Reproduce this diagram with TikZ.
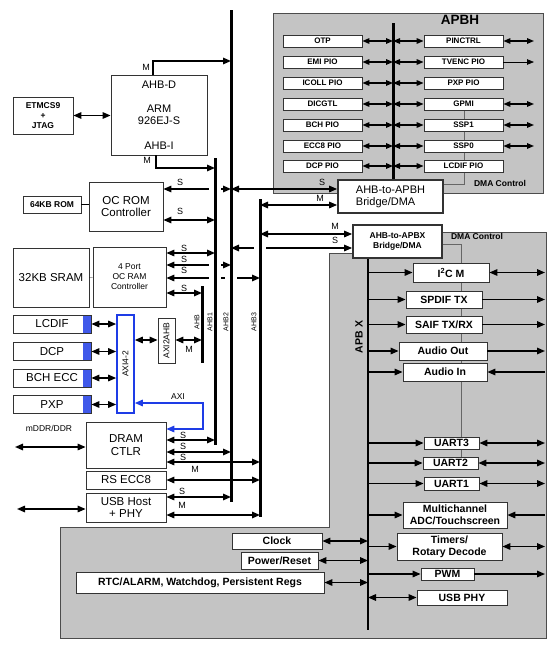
\documentclass[tikz,border=0pt]{standalone}
\usepackage{fontspec}
\usepackage{graphicx}
\setmainfont{Liberation Sans}
\usetikzlibrary{arrows.meta, positioning}

\definecolor{axiblue}{RGB}{30,60,230}
\definecolor{regiongray}{RGB}{196,196,196}

\newcommand{\sizetiny}{\fontsize{7}{8}\selectfont}
\newcommand{\sizesmall}{\fontsize{8}{9}\selectfont}
\newcommand{\sizenote}{\fontsize{8.5}{10}\selectfont}
\newcommand{\sizetag}{\fontsize{9}{10}\selectfont}
\newcommand{\sizemid}{\fontsize{10.5}{12}\selectfont}
\newcommand{\sizebig}{\fontsize{11.5}{12.5}\selectfont}
\newcommand{\sizetitle}{\fontsize{13.5}{15}\selectfont}

\tikzstyle{block} = [rectangle, draw=black!80, fill=white, line width=0.8pt, inner sep=0pt, align=center]
\tikzstyle{pio} = [block, minimum width=79pt, minimum height=12pt, font=\sizesmall\bfseries]
\tikzstyle{periph} = [block, font=\sizemid\bfseries]
\tikzstyle{unit} = [block, font=\sizebig]
\tikzstyle{bridge} = [block, line width=1.8pt]
\tikzstyle{master} = [block, minimum width=78pt, minimum height=18pt, font=\sizebig, path picture={\fill[axiblue!85] ([xshift=-8pt]path picture bounding box.north east) rectangle (path picture bounding box.south east);}]
\tikzstyle{bus} = [line width=3pt]
\tikzstyle{arrow} = [line width=1.5pt, ->, >={Triangle[length=8pt,width=6.5pt]}]
\tikzstyle{dblarrow} = [line width=1.5pt, <->, >={Triangle[length=8pt,width=6.5pt]}]
\tikzstyle{piolink} = [line width=1.4pt, <->, >={Triangle[length=7pt,width=5.5pt]}]
\tikzstyle{thinarrow} = [line width=0.8pt, ->, >={Triangle[length=7pt,width=5.5pt]}]
\tikzstyle{region} = [draw=black!70, fill=regiongray, line width=0.8pt]
\tikzstyle{dma} = [draw=black!60, line width=0.6pt]
\tikzstyle{tag} = [font=\sizetag, inner sep=0pt]
\tikzstyle{buslabel} = [font=\sizetiny, rotate=90, inner sep=0pt]

\begin{document}
\begin{tikzpicture}[x=1pt, y=-1pt]
\useasboundingbox (0,0) rectangle (554,645);

% Regions
\draw[region] (273,13) rectangle (543,193);
\draw[region] (329,253) -- (360,253) -- (360,232) -- (546,232) -- (546,638) -- (60,638) -- (60,527) -- (329,527) -- cycle;

% DMA control lines
\draw[dma] (464,110) -- (464,184) -- (443,184);
\draw[dma] (442,244) -- (461,244) -- (461,457);

% Bus coordinates
\coordinate (ahb) at (202,286);
\coordinate (ahb1) at (215,158);
\coordinate (ahb2) at (231,10);
\coordinate (ahb3) at (260,199);
\coordinate (apbh) at (393,23);
\coordinate (apbx) at (368,258);
\coordinate (edge) at (545,0);
\coordinate (apbhedge) at (534,0);
\coordinate (ddr) at (15,447);
\coordinate (usbext) at (17,509);

% Nodes for CPU and memories
\node (etm) [block, minimum width=60pt, minimum height=37pt, font=\sizenote\bfseries] at (43,115.5) {ETMCS9\\+\\JTAG};
\node (arm) [block, minimum width=96pt, minimum height=80pt, font=\fontsize{11}{12}\selectfont] at (159,115) {AHB-D\\[12.5pt]ARM\\926EJ-S\\[12.5pt]AHB-I};
\node (romc) [unit, minimum width=74pt, minimum height=49pt] at (126,206.5) {OC ROM\\Controller};
\node (rom64) [block, minimum width=58pt, minimum height=17pt, font=\sizenote\bfseries] at (52,204.5) {64KB ROM};
\node (sram) [unit, minimum width=76pt, minimum height=59pt] at (51,277.5) {32KB SRAM};
\node (ramc) [block, minimum width=73pt, minimum height=60pt, font=\sizenote] at (129.5,277) {4 Port\\OC RAM\\Controller};

% Nodes for AXI masters
\node (lcdif) [master] at (52,324) {LCDIF};
\node (dcp) [master] at (52,351.5) {DCP};
\node (bchecc) [master] at (52,378) {BCH ECC};
\node (pxp) [master] at (52,404.5) {PXP};
\node (axi) [block, draw=axiblue, line width=1.6pt, minimum width=17pt, minimum height=98pt, font=\sizenote] at (125.5,364) {\rotatebox{90}{AXI4-2}};
\node (axi2ahb) [block, minimum width=17pt, minimum height=45pt, font=\sizenote] at (166.5,340.5) {\rotatebox{90}{AXI2AHB}};

% Nodes for DRAM and USB
\node (dram) [unit, minimum width=80pt, minimum height=46pt] at (126,445) {DRAM\\CTLR};
\node (rsecc) [unit, minimum width=80pt, minimum height=18pt] at (126,480) {RS ECC8};
\node (usbh) [unit, minimum width=80pt, minimum height=29pt] at (126,507.5) {USB Host\\+ PHY};

% Nodes for APBH
\node (otp) [pio] at (322.5,41) {OTP};
\node (emi) [pio] at (322.5,62) {EMI PIO};
\node (icoll) [pio] at (322.5,83) {ICOLL PIO};
\node (dicgtl) [pio] at (322.5,104) {DICGTL};
\node (bchpio) [pio] at (322.5,125) {BCH PIO};
\node (eccpio) [pio] at (322.5,146) {ECC8 PIO};
\node (dcppio) [pio] at (322.5,166) {DCP PIO};
\node (pinctrl) [pio] at (463.5,41) {PINCTRL};
\node (tvenc) [pio] at (463.5,62) {TVENC PIO};
\node (pxppio) [pio] at (463.5,83) {PXP PIO};
\node (gpmi) [pio] at (463.5,104) {GPMI};
\node (ssp1) [pio] at (463.5,125) {SSP1};
\node (ssp0) [pio] at (463.5,146) {SSP0};
\node (lcdifpio) [pio] at (463.5,166) {LCDIF PIO};

% Bridges
\node (apbhbr) [bridge, minimum width=105pt, minimum height=33pt, font=\fontsize{11}{12}\selectfont, align=left] at (390.5,196.5) {AHB-to-APBH\\Bridge/DMA};
\node (apbxbr) [bridge, minimum width=89pt, minimum height=33pt, font=\sizenote\bfseries] at (397.5,241.5) {AHB-to-APBX\\Bridge/DMA};

% Nodes for APBX
\node (i2c) [periph, minimum width=76pt, minimum height=19pt] at (451,272.5) {I\textsuperscript{2}C M};
\node (spdif) [periph, minimum width=76pt, minimum height=17pt] at (444,299.5) {SPDIF TX};
\node (saif) [periph, minimum width=76pt, minimum height=17pt] at (444,324.5) {SAIF TX/RX};
\node (audout) [periph, minimum width=88pt, minimum height=18pt] at (443,351) {Audio Out};
\node (audin) [periph, minimum width=84pt, minimum height=18pt] at (445,372) {Audio In};
\node (uart3) [periph, minimum width=55pt, minimum height=12pt] at (451.5,443) {UART3};
\node (uart2) [periph, minimum width=55pt, minimum height=12pt] at (450.5,463) {UART2};
\node (uart1) [periph, minimum width=55pt, minimum height=13pt] at (451.5,483.5) {UART1};
\node (adc) [periph, minimum width=104pt, minimum height=26pt] at (455,515) {Multichannel\\ADC/Touchscreen};
\node (timers) [periph, minimum width=105pt, minimum height=27pt] at (449.5,546.5) {Timers/\\Rotary Decode};
\node (pwm) [periph, minimum width=53pt, minimum height=12pt] at (447.5,574) {PWM};
\node (usbphy) [periph, minimum width=90pt, minimum height=15pt] at (462,597.5) {USB PHY};
\node (clock) [periph, minimum width=90pt, minimum height=16pt] at (277,541) {Clock};
\node (pwrrst) [periph, minimum width=77pt, minimum height=17pt] at (279.5,560.5) {Power/Reset};
\node (rtc) [periph, minimum width=248pt, minimum height=21pt] at (200,582.5) {RTC/ALARM, Watchdog, Persistent Regs};

% Arrows for CPU
\draw [dblarrow] (etm.east) -- (arm.west |- etm.east);
\draw [arrow] (arm.north -| 153,0) -- (153,61) -- (ahb2 |- 0,61);
\draw [arrow] (arm.south -| 156,0) -- (156,168) -- (ahb1 |- 0,168);

% Arrows for ROM and RAM
\draw (rom64.east) -- (romc.west |- rom64.east);
\draw [dblarrow] (romc.east |- 0,189) -- (ahb2 |- 0,189);
\draw [dblarrow] (romc.east |- 0,220) -- (ahb1 |- 0,220);
\draw (sram) -- (ramc);
\draw [dblarrow] (ramc.east |- 0,253) -- (ahb1 |- 0,253);
\draw [dblarrow] (ramc.east |- 0,265) -- (ahb2 |- 0,265);
\draw [dblarrow] (ramc.east |- 0,278) -- (ahb3 |- 0,278);
\draw [dblarrow] (ramc.east |- 0,293) -- (ahb |- 0,293);

% Arrows for bridges
\draw [dblarrow] (ahb2 |- 0,189) -- (apbhbr.west |- 0,189);
\draw [dblarrow] (ahb3 |- 0,205) -- (apbhbr.west |- 0,205);
\draw [dblarrow] (ahb3 |- 0,234) -- (apbxbr.west |- 0,234);
\draw [dblarrow] (ahb2 |- 0,248) -- (apbxbr.west |- 0,248);

% Arrows for AXI
\draw [dblarrow] (lcdif.east) -- (axi.west |- lcdif.east);
\draw [dblarrow] (dcp.east) -- (axi.west |- dcp.east);
\draw [dblarrow] (bchecc.east) -- (axi.west |- bchecc.east);
\draw [dblarrow] (pxp.east) -- (axi.west |- pxp.east);
\draw [dblarrow] (axi.east |- 0,340) -- (axi2ahb.west |- 0,340);
\draw [dblarrow] (axi2ahb.east |- 0,340) -- (ahb |- 0,340);
\draw [dblarrow, axiblue] (axi.east |- 0,403) -- (203,403) -- (203,429) -- (dram.east |- 0,429);

% Arrows for DRAM and USB
\draw [dblarrow] (ddr) -- (dram.west |- ddr);
\draw [dblarrow] (dram.east |- 0,440) -- (ahb1 |- 0,440);
\draw [dblarrow] (dram.east |- 0,452) -- (ahb2 |- 0,452);
\draw [dblarrow] (dram.east |- 0,462) -- (ahb3 |- 0,462);
\draw [dblarrow] (rsecc.east) -- (ahb3 |- rsecc.east);
\draw [dblarrow] (usbh.east |- 0,497) -- (ahb2 |- 0,497);
\draw [dblarrow] (usbh.east |- 0,515) -- (ahb3 |- 0,515);
\draw [dblarrow] (usbext) -- (usbh.west |- usbext);

% Arrows for APBH
\draw [piolink] (otp) -- (apbh |- otp);
\draw [piolink] (emi) -- (apbh |- emi);
\draw [piolink] (icoll) -- (apbh |- icoll);
\draw [piolink] (dicgtl) -- (apbh |- dicgtl);
\draw [piolink] (bchpio) -- (apbh |- bchpio);
\draw [piolink] (eccpio) -- (apbh |- eccpio);
\draw [piolink] (dcppio) -- (apbh |- dcppio);
\draw [piolink] (apbh |- pinctrl) -- (pinctrl);
\draw [piolink] (apbh |- tvenc) -- (tvenc);
\draw [piolink] (apbh |- pxppio) -- (pxppio);
\draw [piolink] (apbh |- gpmi) -- (gpmi);
\draw [piolink] (apbh |- ssp1) -- (ssp1);
\draw [piolink] (apbh |- ssp0) -- (ssp0);
\draw [piolink] (apbh |- lcdifpio) -- (lcdifpio);
\draw [piolink] (pinctrl.east) -- (apbhedge |- pinctrl.east);
\draw [thinarrow] (tvenc.east) -- (apbhedge |- tvenc.east);
\draw [piolink] (gpmi.east) -- (apbhedge |- gpmi.east);
\draw [piolink] (ssp1.east) -- (apbhedge |- ssp1.east);
\draw [piolink] (ssp0.east) -- (apbhedge |- ssp0.east);

% Arrows for APBX
\draw [arrow] (apbx |- i2c) -- (i2c);
\draw [arrow] (apbx |- spdif) -- (spdif);
\draw [arrow] (apbx |- saif) -- (saif);
\draw [arrow] (apbx |- audout) -- (audout);
\draw [arrow] (apbx |- audin) -- (audin);
\draw [arrow] (apbx |- uart3) -- (uart3);
\draw [arrow] (apbx |- uart2) -- (uart2);
\draw [arrow] (apbx |- uart1) -- (uart1);
\draw [arrow] (apbx |- adc) -- (adc);
\draw [arrow] (apbx |- timers) -- (timers);
\draw [arrow] (apbx |- pwm) -- (pwm);
\draw [dblarrow] (apbx |- usbphy) -- (usbphy);
\draw [dblarrow] (clock) -- (apbx |- clock);
\draw [dblarrow] (pwrrst) -- (apbx |- pwrrst);
\draw [dblarrow] (rtc) -- (apbx |- rtc);
\draw [dblarrow] (i2c.east) -- (edge |- i2c.east);
\draw [arrow] (spdif.east) -- (edge |- spdif.east);
\draw [arrow] (saif.east) -- (edge |- saif.east);
\draw [arrow] (audout.east) -- (edge |- audout.east);
\draw [arrow] (edge |- audin.east) -- (audin.east);
\draw [dblarrow] (uart3.east) -- (edge |- uart3.east);
\draw [dblarrow] (uart2.east) -- (edge |- uart2.east);
\draw [dblarrow] (uart1.east) -- (edge |- uart1.east);
\draw [arrow] (edge |- adc.east) -- (adc.east);
\draw [dblarrow] (timers.east) -- (edge |- timers.east);
\draw [arrow] (pwm.east) -- (edge |- pwm.east);

% Bus crossings
\fill[white] (209,187) rectangle (221,191);
\fill[white] (209,263) rectangle (221,267);
\fill[white] (209,276) rectangle (221,280);
\fill[white] (225,276) rectangle (237,280);
\fill[white] (254,246) rectangle (266,250);

% Buses
\draw [bus] (ahb) -- (ahb |- 0,363);
\draw [bus] (ahb1) -- (ahb1 |- 0,445);
\draw [bus] (ahb2) -- (ahb2 |- 0,502);
\draw [bus] (ahb3) -- (ahb3 |- 0,517);
\draw [bus] (apbh) -- (apbhbr.north -| apbh);
\draw [bus, line width=2.5pt] (apbxbr.south -| apbx) -- (apbx |- 0,630);

% Labels
\node [font=\sizetitle\bfseries] at (460,20) {APBH};
\node [font=\sizenote\bfseries] at (500,183) {DMA Control};
\node [font=\sizenote\bfseries] at (477,236) {DMA Control};
\node [font=\sizemid\bfseries, rotate=90] at (359,337) {APB X};
\node [font=\sizenote] at (49,428) {mDDR/DDR};
\node [font=\sizenote] at (178,397) {AXI};
\node [buslabel] at (197,322) {AHB};
\node [buslabel] at (210,322) {AHB1};
\node [buslabel] at (226,322) {AHB2};
\node [buslabel] at (254,322) {AHB3};
\node [tag] at (146,67) {M};
\node [tag] at (147,160) {M};
\node [tag] at (180,182) {S};
\node [tag] at (180,211) {S};
\node [tag] at (322,182) {S};
\node [tag] at (320,198) {M};
\node [tag] at (335,226) {M};
\node [tag] at (335,240) {S};
\node [tag] at (184,248) {S};
\node [tag] at (184,259) {S};
\node [tag] at (184,270) {S};
\node [tag] at (184,288) {S};
\node [tag] at (189,349) {M};
\node [tag] at (183,435) {S};
\node [tag] at (183,446) {S};
\node [tag] at (183,457) {S};
\node [tag] at (195,469) {M};
\node [tag] at (182,491) {S};
\node [tag] at (182,505) {M};

\end{tikzpicture}
\end{document}
